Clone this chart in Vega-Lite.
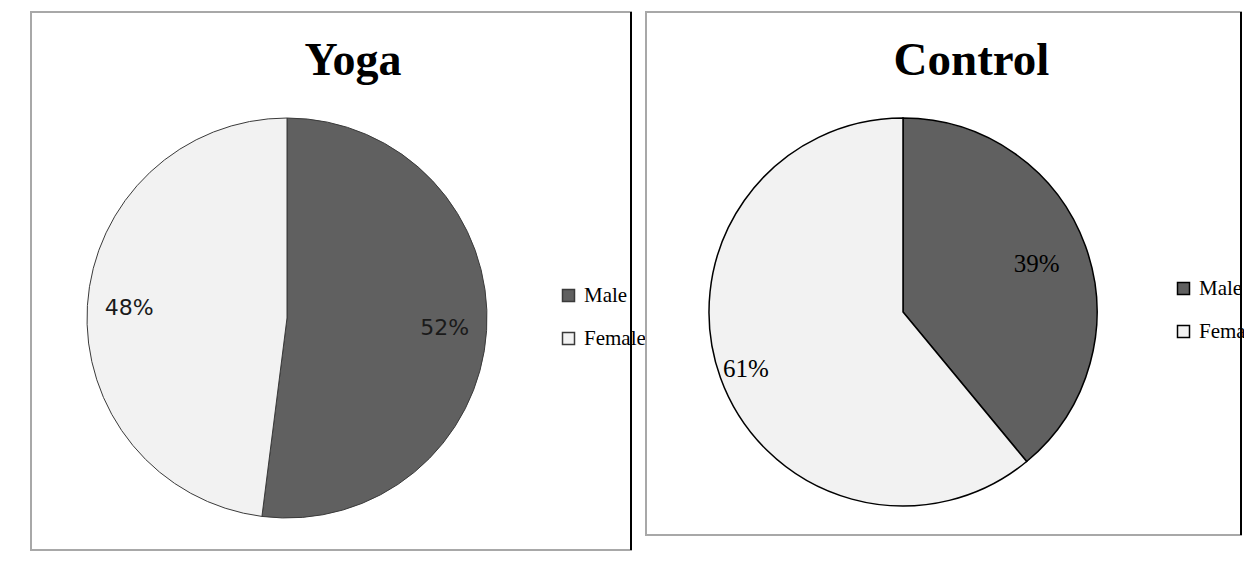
{
  "$schema": "https://vega.github.io/schema/vega-lite/v6.json",
  "padding": {"left": 30, "top": 10, "right": 0, "bottom": 0},
  "background": "white",
  "config": {
    "view": {"stroke": "#a8a8a8", "strokeWidth": 2, "fill": "white"},
    "legend": {
      "orient": "none",
      "title": null,
      "padding": 0,
      "symbolType": "square",
      "symbolSize": 144,
      "labelFont": "Liberation Serif",
      "labelFontSize": 21,
      "labelColor": "black",
      "labelOffset": 5,
      "labelLimit": 0,
      "rowPadding": 21
    }
  },
  "bounds": "flush",
  "spacing": 15,
  "resolve": {"scale": {"color": "independent", "theta": "independent"}, "legend": {"color": "independent"}},
  "hconcat": [
    {
      "width": 600,
      "height": 538,
      "title": {"text": "Yoga", "font": "Liberation Serif", "fontSize": 46, "fontWeight": "bold", "color": "black", "anchor": "middle", "dx": 22, "dy": 50, "baseline": "alphabetic", "offset": -60},
      "data": {"values": [
        {"group": "Yoga", "sex": "Male", "share": 0.52},
        {"group": "Yoga", "sex": "Female", "share": 0.48}
      ]},
      "encoding": {
        "theta": {"field": "share", "type": "quantitative", "stack": true},
        "order": {"field": "sex", "sort": "descending"}
      },
      "layer": [
        {
          "mark": {"type": "arc", "radius": 200, "stroke": "#3a3a3a", "strokeWidth": 1, "xOffset": -44, "yOffset": 37},
          "encoding": {
            "color": {
              "field": "sex", "type": "nominal",
              "scale": {"domain": ["Male", "Female"], "range": ["#606060", "#f2f2f2"]},
              "legend": {
                "legendX": 527, "legendY": 273,
                "encode": {
                  "symbols": {"update": {"stroke": {"signal": "datum.value === 'Female' ? '#000000' : '#606060'"}, "strokeWidth": {"value": 1.2}}}
                }
              }
            }
          }
        },
        {
          "mark": {"type": "text", "radius": 158, "font": "DejaVu Sans", "fontSize": 22, "fill": "#1a1a1a", "xOffset": -44, "yOffset": 37},
          "encoding": {"text": {"field": "share", "type": "quantitative", "format": ".0%"}}
        },
        {
          "mark": {"type": "rule", "color": "black", "strokeWidth": 2},
          "encoding": {"x": {"value": "width"}, "y": {"value": 0}, "y2": {"value": "height"}, "theta": null, "order": null}
        }
      ]
    },
    {
      "width": 595,
      "height": 523,
      "title": {"text": "Control", "font": "Liberation Serif", "fontSize": 47, "fontWeight": "bold", "color": "black", "anchor": "middle", "dx": 28, "dy": 46, "baseline": "alphabetic", "offset": -65},
      "data": {"values": [
        {"group": "Control", "sex": "Male", "share": 0.39},
        {"group": "Control", "sex": "Female", "share": 0.61}
      ]},
      "encoding": {
        "theta": {"field": "share", "type": "quantitative", "stack": true},
        "order": {"field": "sex", "sort": "descending"}
      },
      "layer": [
        {
          "mark": {"type": "arc", "radius": 194, "stroke": "black", "strokeWidth": 1.5, "xOffset": -40.5, "yOffset": 38.5},
          "encoding": {
            "color": {
              "field": "sex", "type": "nominal",
              "scale": {"domain": ["Male", "Female"], "range": ["#606060", "#f2f2f2"]},
              "legend": {
                "legendX": 527, "legendY": 266,
                "encode": {
                  "symbols": {"update": {"stroke": {"signal": "datum.value === 'Female' ? '#000000' : '#606060'"}, "strokeWidth": {"value": 1.5}}}
                }
              }
            }
          }
        },
        {
          "mark": {"type": "text", "radius": {"expr": "datum.sex === 'Male' ? 142 : 167"}, "font": "Liberation Serif", "fontSize": 25, "fill": "black", "xOffset": -40.5, "yOffset": 38.5},
          "encoding": {"text": {"field": "share", "type": "quantitative", "format": ".0%"}}
        },
        {
          "mark": {"type": "rule", "color": "black", "strokeWidth": 2},
          "encoding": {"x": {"value": "width"}, "y": {"value": 0}, "y2": {"value": "height"}, "theta": null, "order": null}
        }
      ]
    }
  ]
}
